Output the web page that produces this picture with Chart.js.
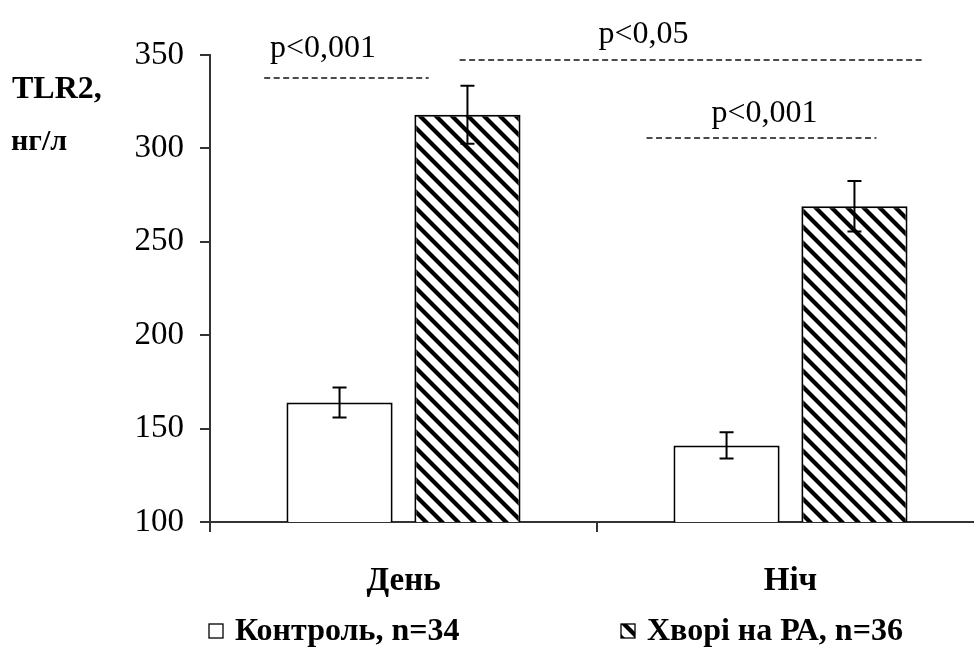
<!DOCTYPE html>
<html lang="uk">
<head>
    <meta charset="UTF-8">
    <title>TLR2</title>
    <script src="https://cdn.jsdelivr.net/npm/chart.js"></script>
    <style>
        body { margin: 0; overflow: hidden; background: #fff; }
    </style>
</head>
<body>
    <canvas id="chartTlr" width="990" height="666"></canvas>

    <script>
        // дані
        const periods = ['День', 'Ніч'];
        const groupLabels = ['Контроль, n=34', 'Хворі на РА, n=36'];
        const controlMean = [164, 141];
        const controlErr = [8, 7];
        const raMean = [318, 269];
        const raErr = [15.5, 13.5];
        const yTicks = [100, 150, 200, 250, 300, 350];

        // позначки достовірності: x у одиницях категорій, y у нг/л
        const sigLines = [
            { from: -0.36, to: 0.065, y: 337.7, text: 'p<0,001', textX: -0.208, textY: 353.5 },
            { from: 0.145, to: 1.341, y: 347.3, text: 'p<0,05', textX: 0.62, textY: 361 },
            { from: 0.628, to: 1.222, y: 305.6, text: 'p<0,001', textX: 0.933, textY: 318.5 }
        ];

        const serif = '"Liberation Serif", "Times New Roman", serif';

        function makeHatch() {
            const p = 16;
            const c = document.createElement('canvas');
            c.width = p; c.height = p;
            const g = c.getContext('2d');
            g.fillStyle = '#fff';
            g.fillRect(0, 0, p, p);
            g.strokeStyle = '#000';
            g.lineWidth = 4.2;
            for (let k = -1; k <= 1; k++) {
                g.beginPath();
                g.moveTo(k * p - 2, -2);
                g.lineTo(k * p + p + 2, p + 2);
                g.stroke();
            }
            return g.createPattern(c, 'repeat');
        }

        const ctx = document.getElementById('chartTlr').getContext('2d');
        const hatch = makeHatch();

        // вуса похибок
        const errorBars = {
            id: 'errorBars',
            afterDatasetsDraw(chart) {
                const c = chart.ctx;
                const y = chart.scales.y;
                c.save();
                c.strokeStyle = '#000';
                c.lineWidth = 2;
                chart.data.datasets.forEach((ds, i) => {
                    chart.getDatasetMeta(i).data.forEach((bar, j) => {
                        const top = y.getPixelForValue(ds.data[j] + ds.errors[j]);
                        const bot = y.getPixelForValue(ds.data[j] - ds.errors[j]);
                        c.beginPath();
                        c.moveTo(bar.x, top); c.lineTo(bar.x, bot);
                        c.moveTo(bar.x - 7, top); c.lineTo(bar.x + 7, top);
                        c.moveTo(bar.x - 7, bot); c.lineTo(bar.x + 7, bot);
                        c.stroke();
                    });
                });
                c.restore();
            }
        };

        // пунктирні лінії з p, підпис осі та легенда
        const extras = {
            id: 'extras',
            afterDraw(chart) {
                const c = chart.ctx;
                const x = chart.scales.x;
                const y = chart.scales.y;
                c.save();
                c.fillStyle = '#000';
                c.strokeStyle = '#111';
                c.lineWidth = 1.6;
                c.setLineDash([6, 3.5]);
                c.textAlign = 'center';
                c.textBaseline = 'middle';
                c.font = '32px ' + serif;
                sigLines.forEach(s => {
                    const py = y.getPixelForValue(s.y);
                    c.beginPath();
                    c.moveTo(x.getPixelForValue(s.from), py);
                    c.lineTo(x.getPixelForValue(s.to), py);
                    c.stroke();
                    c.fillText(s.text, x.getPixelForValue(s.textX), y.getPixelForValue(s.textY));
                });
                c.setLineDash([]);

                c.textAlign = 'left';
                c.font = 'bold 32px ' + serif;
                c.fillText('TLR2,', 12, 90);
                c.font = 'bold 30px ' + serif;
                c.fillText('нг/л', 11, 142);

                // легенда
                const items = [{ left: 209 }, { left: 621 }];
                c.font = 'bold 32px ' + serif;
                chart.data.datasets.forEach((ds, i) => {
                    const bx = items[i].left, by = 624, s = 14;
                    c.fillStyle = ds.backgroundColor;
                    c.fillRect(bx, by, s, s);
                    c.strokeStyle = '#000';
                    c.lineWidth = 1.3;
                    c.strokeRect(bx, by, s, s);
                    c.fillStyle = '#000';
                    c.fillText(ds.label, bx + s + 12, by + s / 2 + 1);
                });
                c.restore();
            }
        };

        new Chart(ctx, {
            type: 'bar',
            data: {
                labels: periods,
                datasets: [{
                    label: groupLabels[0],
                    data: controlMean,
                    errors: controlErr,
                    backgroundColor: '#fff',
                    borderColor: '#000',
                    borderWidth: 2
                }, {
                    label: groupLabels[1],
                    data: raMean,
                    errors: raErr,
                    backgroundColor: hatch,
                    borderColor: '#000',
                    borderWidth: 2
                }]
            },
            options: {
                responsive: false,
                animation: false,
                layout: { padding: { top: 55, right: 6, left: 0, bottom: 0 } },
                categoryPercentage: 0.661,
                barPercentage: 0.83,
                plugins: { legend: { display: false }, tooltip: { enabled: false } },
                scales: {
                    x: {
                        offset: true,
                        grid: { drawOnChartArea: false, tickLength: 10, color: '#333', lineWidth: 2, offset: true },
                        border: { color: '#333', width: 2 },
                        ticks: { color: '#000', font: { family: serif, size: 33, weight: 'bold' }, padding: 30 },
                        afterFit(s) { s.height = 144; }
                    },
                    y: {
                        min: yTicks[0],
                        max: yTicks[yTicks.length - 1],
                        afterBuildTicks(s) { s.ticks = yTicks.map(v => ({ value: v })); },
                        grid: { drawOnChartArea: false, tickLength: 10, color: '#333', lineWidth: 2 },
                        border: { color: '#333', width: 2 },
                        ticks: { color: '#000', font: { family: serif, size: 33 }, padding: 16 },
                        afterFit(s) { s.width = 210; }
                    }
                }
            },
            plugins: [errorBars, extras]
        });
    </script>
</body>
</html>
